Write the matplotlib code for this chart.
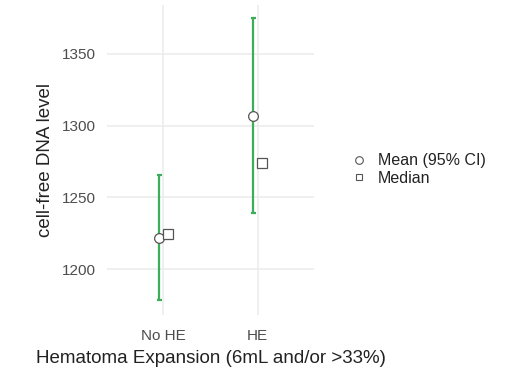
import matplotlib

matplotlib.use("Agg")
import matplotlib.pyplot as plt
from matplotlib.lines import Line2D

plt.rcParams["font.family"] = ["Liberation Sans", "DejaVu Sans"]

categories = ["No HE", "HE"]
mean_vals = [1221.6, 1306.8]
ci_low = [1178.4, 1239.2]
ci_high = [1265.6, 1375.2]
median_vals = [1224.4, 1274.0]

GREEN = "#3cad5a"
EDGE = "#555555"
GRID = "#ebebeb"
TXT = "#4d4d4d"

fig = plt.figure(figsize=(5.26, 3.77), dpi=100)
ax = fig.add_axes([0.2034, 0.1645, 0.3935, 0.822])

xs = list(range(1, len(categories) + 1))
dodge = 0.045
for i, x in enumerate(xs):
    xe = x - dodge
    ax.errorbar(xe, mean_vals[i],
                yerr=[[mean_vals[i] - ci_low[i]], [ci_high[i] - mean_vals[i]]],
                fmt="none", ecolor=GREEN, elinewidth=1.6, capsize=1.8,
                capthick=1.6, zorder=2)
    ax.plot(xe, mean_vals[i], "o", ms=7, mfc="white", mec=EDGE, mew=0.9, zorder=3)
    ax.plot(x + dodge, median_vals[i], "s", ms=6.5, mfc="white", mec=EDGE,
            mew=0.9, zorder=3)

ax.set_xlim(0.4, 2.6)
ax.set_ylim(1168, 1384)
ax.set_xticks(xs)
ax.set_xticklabels(categories)
ax.set_yticks([1200, 1250, 1300, 1350])
ax.grid(True, color=GRID, linewidth=1.1)
ax.set_axisbelow(True)
for s in ax.spines.values():
    s.set_visible(False)
ax.tick_params(axis="y", length=0, labelsize=11, labelcolor=TXT, pad=8)
ax.tick_params(axis="x", length=0, labelsize=11, labelcolor=TXT, pad=10)
ax.set_ylabel("cell-free DNA level", fontsize=13.5, color="#222222", labelpad=6)
ax.set_xlabel("Hematoma Expansion (6mL and/or >33%)", fontsize=13.5,
              color="#222222", labelpad=5)

handles = [
    Line2D([], [], ls="none", marker="o", ms=5.5, mfc="white", mec=EDGE, mew=0.8,
           label="Mean (95% CI)"),
    Line2D([], [], ls="none", marker="s", ms=5, mfc="white", mec=EDGE, mew=0.8,
           label="Median"),
]
fig.legend(handles=handles, loc="center left", bbox_to_anchor=(0.64, 0.55),
           frameon=False, fontsize=11.5, handlelength=1.0, handletextpad=0.7,
           labelspacing=0.15, labelcolor="#222222")

fig.savefig("out.png", dpi=100)
